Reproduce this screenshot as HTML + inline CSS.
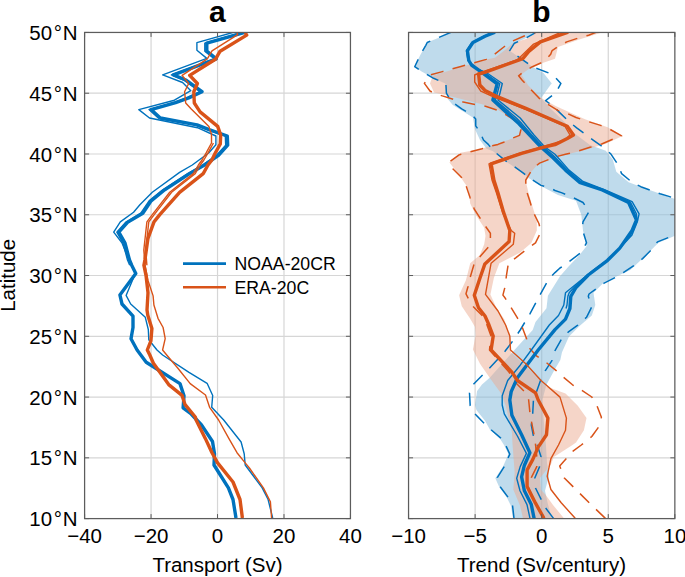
<!DOCTYPE html>
<html><head><meta charset="utf-8"><style>
html,body{margin:0;padding:0;background:#fff;}
body{width:685px;height:577px;overflow:hidden;position:relative;font-family:"Liberation Sans",sans-serif;}
svg text{font-family:"Liberation Sans",sans-serif;fill:#000;}
</style></head><body>
<svg width="685" height="577" viewBox="0 0 685 577" style="position:absolute;left:0;top:0"><rect width="685" height="577" fill="#fff"/><line x1="151.06" y1="32.45" x2="151.06" y2="518.6" stroke="#d6d6d6" stroke-width="1.2"/><line x1="217.53" y1="32.45" x2="217.53" y2="518.6" stroke="#d6d6d6" stroke-width="1.2"/><line x1="283.99" y1="32.45" x2="283.99" y2="518.6" stroke="#d6d6d6" stroke-width="1.2"/><line x1="84.6" y1="457.83" x2="350.45" y2="457.83" stroke="#d6d6d6" stroke-width="1.2"/><line x1="84.6" y1="397.06" x2="350.45" y2="397.06" stroke="#d6d6d6" stroke-width="1.2"/><line x1="84.6" y1="336.29" x2="350.45" y2="336.29" stroke="#d6d6d6" stroke-width="1.2"/><line x1="84.6" y1="275.52" x2="350.45" y2="275.52" stroke="#d6d6d6" stroke-width="1.2"/><line x1="84.6" y1="214.76" x2="350.45" y2="214.76" stroke="#d6d6d6" stroke-width="1.2"/><line x1="84.6" y1="153.99" x2="350.45" y2="153.99" stroke="#d6d6d6" stroke-width="1.2"/><line x1="84.6" y1="93.22" x2="350.45" y2="93.22" stroke="#d6d6d6" stroke-width="1.2"/><line x1="475.12" y1="32.45" x2="475.12" y2="518.6" stroke="#d6d6d6" stroke-width="1.2"/><line x1="541.70" y1="32.45" x2="541.70" y2="518.6" stroke="#d6d6d6" stroke-width="1.2"/><line x1="608.27" y1="32.45" x2="608.27" y2="518.6" stroke="#d6d6d6" stroke-width="1.2"/><line x1="408.55" y1="457.83" x2="674.85" y2="457.83" stroke="#d6d6d6" stroke-width="1.2"/><line x1="408.55" y1="397.06" x2="674.85" y2="397.06" stroke="#d6d6d6" stroke-width="1.2"/><line x1="408.55" y1="336.29" x2="674.85" y2="336.29" stroke="#d6d6d6" stroke-width="1.2"/><line x1="408.55" y1="275.52" x2="674.85" y2="275.52" stroke="#d6d6d6" stroke-width="1.2"/><line x1="408.55" y1="214.76" x2="674.85" y2="214.76" stroke="#d6d6d6" stroke-width="1.2"/><line x1="408.55" y1="153.99" x2="674.85" y2="153.99" stroke="#d6d6d6" stroke-width="1.2"/><line x1="408.55" y1="93.22" x2="674.85" y2="93.22" stroke="#d6d6d6" stroke-width="1.2"/><defs><clipPath id="cb"><rect x="408.55" y="32.45" width="266.30" height="486.15"/></clipPath><clipPath id="ca"><rect x="84.6" y="32.45" width="265.85" height="486.15"/></clipPath></defs><g clip-path="url(#cb)"><polygon points="451.4,32.4 427.2,42.5 425.8,45.3 420.3,55.0 414.5,66.5 421.6,71.6 434.1,78.5 445.2,83.4 446.6,93.1 448.0,99.3 452.8,105.0 472.9,117.5 475.0,129.3 480.0,140.0 486.5,148.7 493.0,151.3 504.0,160.3 510.5,164.5 522.0,172.8 529.0,178.3 541.0,186.1 558.0,195.1 576.0,200.8 581.3,214.8 583.0,230.5 586.5,246.3 579.5,255.1 569.0,266.0 560.0,276.3 547.9,295.8 546.5,308.2 535.5,322.1 532.7,330.0 513.3,351.3 489.7,377.7 482.0,384.6 477.1,391.0 475.0,404.9 476.4,410.0 485.0,420.8 490.0,429.8 499.5,438.1 504.0,445.1 508.5,454.1 503.0,466.6 495.3,478.3 499.0,486.6 507.0,497.7 511.0,506.0 513.0,518.4 552.0,518.4 548.0,504.6 545.0,490.8 549.0,476.0 547.0,463.0 546.0,445.8 543.8,420.8 542.4,400.0 546.5,384.6 555.0,369.0 560.3,360.0 562.0,352.3 569.0,336.6 579.5,326.1 591.8,315.5 595.3,305.0 593.5,292.8 604.1,282.3 630.3,270.0 642.6,258.6 658.4,242.8 675.0,235.8 675.0,199.0 649.6,190.0 628.6,182.3 616.3,171.8 612.8,159.6 605.8,150.8 590.0,145.0 574.0,133.0 564.0,121.5 551.0,109.0 541.2,98.1 550.4,85.0 551.8,83.4 543.5,73.0 532.4,66.7 513.0,52.9 509.6,50.8 514.4,43.2 524.1,39.0 535.5,32.4" fill="rgb(128,183,217)" fill-opacity="0.5" stroke="none"/><polygon points="537.0,32.4 526.0,39.0 513.0,43.0 505.0,50.0 495.0,57.7 485.0,59.8 464.6,66.0 432.7,75.8 430.0,83.4 434.1,92.4 446.6,95.2 485.0,104.9 498.0,109.7 517.4,122.9 521.6,130.5 520.2,134.7 511.9,138.8 486.9,147.1 480.0,149.2 460.5,152.8 449.4,162.5 457.7,172.9 466.0,185.0 468.8,191.1 470.2,203.6 475.7,214.7 484.2,227.7 485.5,236.0 484.2,244.3 479.9,255.0 470.2,263.3 466.0,280.0 459.1,295.2 461.8,306.3 470.2,318.8 475.0,327.1 475.7,335.0 472.9,349.4 480.0,363.8 489.7,377.7 500.8,393.0 505.5,405.0 511.9,431.9 512.6,445.0 514.7,472.7 513.3,489.4 520.2,506.0 523.0,518.4 564.1,518.4 553.0,505.0 545.0,494.0 541.0,490.0 540.0,478.0 550.9,464.5 553.8,457.1 572.5,445.0 576.0,442.6 583.9,430.3 586.5,418.1 577.8,405.8 565.5,393.5 560.0,391.6 545.2,386.0 526.0,366.6 511.2,352.7 510.5,337.5 507.7,330.0 504.3,319.3 496.6,308.2 490.4,294.4 493.9,277.7 499.4,263.2 520.2,252.6 531.3,242.9 536.8,230.5 536.8,220.8 532.7,206.9 528.5,193.0 525.8,181.2 528.5,175.0 538.2,163.8 560.3,156.1 584.8,149.9 605.8,143.8 622.4,135.9 607.6,127.2 585.0,119.2 555.6,106.0 541.2,98.1 528.3,85.5 521.3,74.4 531.7,66.7 555.0,58.7 558.0,47.0 578.4,39.7 601.8,32.4" fill="rgb(235,172,146)" fill-opacity="0.5" stroke="none"/></g><g clip-path="url(#ca)" fill="none" stroke-linejoin="round" stroke-linecap="butt"><polyline points="235.3,31.8 196.9,42.7 196.9,50.3 206.8,58.4 162.7,74.9 182.6,82.5 190.8,90.7 174.4,100.2 138.8,109.6 149.5,118.0 197.5,127.7 215.9,136.0 215.9,144.8 208.9,152.7 192.3,165.0 179.6,172.4 152.3,192.3 139.9,204.7 133.6,212.2 120.3,221.9 113.7,232.1 121.9,242.8 129.0,260.0 131.2,265.0 135.3,273.4 126.1,295.4 130.7,304.0 145.3,317.3 148.3,329.5 148.8,339.7 157.0,350.0 162.6,355.0 189.0,372.4 207.1,383.3 212.7,395.5 211.7,407.3 223.7,420.0 241.1,442.0 244.2,453.7 245.2,465.0 262.2,487.9 268.1,499.5 272.7,518.0" stroke="#0072BD" stroke-width="1.4"/><polyline points="242.8,32.3 204.8,43.2 204.8,51.2 214.3,58.8 171.4,74.9 183.7,80.0 200.0,91.7 186.7,97.9 173.6,102.7 149.0,109.6 158.3,118.0 195.0,124.9 207.8,129.9 225.3,136.0 225.7,145.2 216.5,155.3 202.5,165.0 187.6,173.6 162.7,189.8 149.1,200.9 140.8,213.2 125.5,222.4 116.8,232.1 122.9,242.8 127.5,260.0 129.7,265.2" stroke="#0072BD" stroke-width="1.4"/><polyline points="244.8,32.3 206.8,43.2 206.8,51.2 216.3,58.8 173.4,74.9 185.7,80.0 202.0,91.7 188.7,97.9 175.6,102.7 151.0,109.6 160.3,118.0 197.0,124.9 209.8,129.9 227.3,136.0 227.7,145.2 218.5,155.3 204.5,165.0 189.6,173.6 164.7,189.8 151.1,200.9 142.8,213.2 127.5,222.4 118.8,232.1 124.9,242.8 129.5,260.0 131.7,265.2 135.8,273.4 119.9,294.9 122.0,304.0 133.0,316.2 133.0,327.5 131.0,338.7 137.1,350.0 146.2,362.2 180.0,383.6 184.0,395.9 183.1,407.8 191.2,414.0 201.5,425.0 212.5,441.5 214.5,453.7 214.0,465.0 228.4,487.9 233.0,499.5 236.0,518.0" stroke="#0072BD" stroke-width="3.4"/><polyline points="236.7,32.3 237.7,34.6 212.0,50.8 207.3,58.8 182.1,75.4 188.7,83.5 184.6,91.7 185.7,103.0 191.0,108.8 208.9,126.4 211.5,134.3 211.5,143.0 206.3,152.7 202.0,160.0 198.4,165.0 193.3,173.6 169.7,192.3 152.3,214.6 146.9,221.9 143.8,250.0 145.0,265.2 148.0,280.5 153.1,295.9 153.9,305.0 158.0,318.3 163.1,327.5 165.2,338.7 162.6,350.0 166.7,355.0 177.9,368.3 190.2,383.6 205.5,395.0 209.6,407.3 218.6,420.0 228.8,438.4 237.0,452.7 245.2,462.9 249.4,468.0 263.4,487.9 270.4,501.9 271.6,518.0" stroke="#D95319" stroke-width="1.4"/><polyline points="213.4,143.0 208.2,152.7 203.9,160.0 200.3,165.0 195.2,173.6 171.6,192.3 154.2,214.6 148.8,221.9 145.7,250.0 146.9,265.2" stroke="#D95319" stroke-width="1.4"/><polyline points="245.2,32.7 246.7,35.1 220.1,51.2 215.4,59.3 189.7,75.4 197.4,83.5 193.8,91.7 194.3,103.0 200.1,111.9 217.7,126.4 220.7,135.1 220.3,143.9 215.0,153.5 211.9,160.0 208.0,165.0 203.2,173.6 179.6,192.3 159.8,214.6 154.0,221.9 147.9,238.7 144.9,260.0 143.9,265.2 146.0,275.4 148.0,292.8 147.0,310.0 147.8,315.2 151.9,328.5 150.9,340.8 147.3,350.0 149.8,355.0 153.4,363.2 168.7,384.6 182.0,395.4 185.1,404.7 195.3,417.0 196.1,420.0 205.3,438.4 212.0,452.7 217.6,462.9 233.0,482.0 240.0,499.5 242.4,518.0" stroke="#D95319" stroke-width="3.4"/></g><g clip-path="url(#cb)" fill="none" stroke-linejoin="round" stroke-linecap="butt"><polyline points="514.0,518.4 512.6,506.0 508.4,497.7 500.1,486.6 497.3,477.6 504.3,466.6 509.8,454.1 505.6,445.1 500.8,438.1 491.1,429.8 485.0,424.3 475.0,413.9 470.2,405.6 469.5,393.1 472.9,384.8 482.6,374.9 489.0,368.7 498.0,359.0 505.0,351.3 513.3,340.3 520.2,330.0 529.9,313.8 540.3,294.4 547.2,281.9 552.1,275.6 555.0,272.6 560.0,268.0 563.8,265.6 570.8,260.3 581.3,252.4 586.5,242.8 582.2,228.8 583.0,221.8 589.2,211.3 583.0,202.5 570.8,196.4 562.0,192.9 555.0,190.5 550.7,188.2 541.0,185.4 529.9,178.3 523.0,172.8 511.2,164.5 505.0,160.3 493.9,151.3 488.3,144.4 483.5,140.0 479.9,132.0 475.7,125.8 475.7,118.9 471.6,114.7 461.7,108.9 451.0,101.3 446.4,93.1 445.9,83.9 441.8,81.9 433.6,78.3 421.3,71.1 414.7,66.7 420.3,55.0 425.8,45.3 427.2,42.5 451.4,32.1" stroke="#0072BD" stroke-width="1.5" stroke-dasharray="13,9.5"/><polyline points="553.5,518.4 545.2,507.4 541.0,499.1 535.5,488.0 534.8,478.0 539.6,466.6 541.0,456.8 537.5,445.8 533.4,436.0 531.3,425.0 532.7,413.9 533.4,400.6 536.8,390.9 541.0,379.1 545.2,370.8 552.1,360.4 555.0,350.6 562.0,338.3 568.1,332.2 577.8,325.2 586.5,317.3 591.8,306.8 588.3,296.3 589.0,294.0 604.1,283.1 616.3,277.0 623.3,272.6 633.8,265.6 642.6,258.6 651.4,249.8 657.5,241.9 670.6,236.7 680.0,235.0 677.0,199.0 668.9,196.4 660.1,193.8 640.8,186.7 632.1,182.3 621.6,173.6 618.1,164.8 611.1,154.3 605.8,149.1 593.5,140.3 585.0,134.0 576.7,127.9 569.7,122.2 559.2,112.1 553.0,106.0 545.6,100.7 556.0,92.4 560.9,83.4 552.5,74.4 532.4,66.7 513.0,52.9 509.6,50.8 514.4,43.2 524.1,39.0 535.2,32.8" stroke="#0072BD" stroke-width="1.5" stroke-dasharray="13,9.5"/><polyline points="544.0,518.4 535.5,503.2 528.0,486.6 531.3,477.6 536.8,466.6 536.8,456.8 535.5,444.4 534.1,434.7 531.3,420.8 529.9,412.5 528.5,398.5 524.4,391.6 514.7,381.8 509.0,372.0 489.5,350.0 491.0,336.0 487.0,325.0 482.6,316.0 473.6,307.0 468.8,299.4 466.0,293.8 468.1,286.2 470.2,277.2 474.3,263.3 481.4,255.0 488.3,247.1 490.4,238.8 490.4,233.2 485.5,226.3 480.6,218.8 474.3,209.1 470.2,198.0 466.0,185.5 461.8,177.8 452.8,168.8 448.7,162.5 459.1,154.9 468.8,152.1 482.0,148.7 489.7,146.4 498.0,144.4 503.6,142.3 512.6,138.1 519.5,135.4 520.9,129.8 517.4,122.2 507.0,115.3 498.0,110.4 485.5,106.2 477.1,104.9 463.2,102.1 453.5,99.3 442.4,95.9 434.1,93.1 430.0,91.0 424.4,83.4 430.0,75.1 442.4,71.6 452.1,68.8 460.0,66.7 473.1,63.0 486.3,59.4 493.6,55.0 503.8,47.0 512.6,41.1 524.2,36.0 536.0,32.4" stroke="#D95319" stroke-width="1.5" stroke-dasharray="13,9.5"/><polyline points="605.4,518.4 589.2,502.8 564.1,477.7 559.7,465.9 573.0,451.2 581.3,445.0 591.8,436.5 598.8,426.8 601.4,417.2 597.0,405.8 591.8,397.0 581.3,390.0 572.5,384.8 562.0,376.0 555.6,370.1 545.2,361.7 536.8,356.2 528.5,347.2 526.4,338.2 521.6,325.6 517.4,317.9 509.8,305.5 505.0,297.8 502.9,295.1 505.6,284.7 506.3,276.3 508.4,263.2 516.0,257.6 525.8,249.9 535.5,242.9 541.0,231.8 538.9,223.5 532.7,211.0 529.9,201.3 525.8,188.9 525.8,180.0 532.7,168.6 539.6,163.1 552.1,158.2 555.0,157.0 565.5,154.3 576.0,151.7 590.0,147.3 602.3,143.8 616.3,137.7 621.6,135.9 609.3,128.9 600.6,125.4 586.5,121.0 576.0,117.5 566.2,113.0 557.8,110.4 545.6,103.0 539.0,98.1 529.0,87.5 522.0,80.0 518.6,75.8 524.0,71.6 532.4,66.7 544.1,61.6 550.7,54.3 552.1,50.6 558.7,46.2 566.7,41.9 579.9,37.5 588.6,35.3 596.6,32.1" stroke="#D95319" stroke-width="1.5" stroke-dasharray="13,9.5"/><polyline points="494.0,32.1 484.0,36.2 472.0,42.5 466.5,50.8 468.0,60.5 477.0,68.8 487.0,73.0 502.3,83.5 500.0,93.0 498.0,100.0 520.2,118.0 534.0,135.0 545.0,147.1 555.0,154.3 569.0,170.1 583.0,181.5 605.0,190.0 632.1,201.6 639.1,213.9 637.3,221.8 632.0,235.0 620.0,248.1 607.0,260.3 593.5,270.0 565.5,292.8 563.8,305.0 558.5,315.5 549.3,325.0 531.3,350.0 520.2,365.2 507.7,380.5 502.2,395.7 502.2,405.0 504.3,413.9 517.4,436.0 526.4,453.4 520.2,466.6 516.7,478.3 520.0,490.8 527.0,504.6 530.0,518.4" stroke="#0072BD" stroke-width="1.4"/><polyline points="494.5,32.1 484.5,36.2 472.4,42.5 466.9,50.8 468.4,60.5 472.2,65.0 476.9,68.8 482.4,71.7 484.8,73.0 499.5,83.5 499.7,83.8 497.4,93.0 495.4,100.0 516.4,118.0 521.8,123.6 531.8,135.0 543.0,147.1 552.0,154.3 555.6,157.8 567.2,170.1 580.8,181.5 582.3,182.3 603.6,190.0 629.4,201.6 630.6,202.5 636.4,213.9 637.1,220.0 636.5,221.8 633.0,230.5 630.5,235.0 619.9,248.1 607.3,260.3 594.2,270.0 587.8,275.0 574.0,287.5 569.2,292.8 567.9,296.3 567.0,305.0 566.0,308.5" stroke="#0072BD" stroke-width="1.4"/><polyline points="495.0,32.1 485.0,36.2 472.9,42.5 467.4,50.8 468.8,60.5 471.5,65.0 480.8,71.7 497.2,83.8 492.9,100.0 518.8,123.6 541.0,147.1 553.0,157.8 565.5,170.1 579.5,182.3 602.3,190.0 628.6,202.5 636.5,220.0 632.1,230.5 619.8,248.1 607.6,260.3 588.3,275.0 576.0,287.5 570.8,296.3 569.9,308.5 565.5,319.1 555.0,329.6 538.2,350.0 525.8,366.6 517.4,377.7 511.2,391.6 509.8,400.0 511.9,415.3 521.6,434.7 529.9,452.7 524.4,465.2 521.6,476.9 524.4,490.8 531.3,504.6 534.1,518.4" stroke="#0072BD" stroke-width="3.4"/><polyline points="561.3,32.1 533.6,44.1 521.6,55.7 517.0,60.0 478.0,73.5 474.7,75.0 474.7,82.0 480.8,91.1 494.0,97.2 523.0,108.3 553.0,121.0 565.0,126.3 570.0,135.0 565.0,140.0 541.0,147.1 519.0,153.4 489.0,163.8 492.0,180.0 496.5,193.0 502.5,212.4 511.2,230.5 514.7,233.2 513.3,244.3 500.8,255.0 491.1,263.2 485.5,294.4 498.0,311.0 505.6,325.0 509.8,336.1 510.5,350.0 525.8,363.8 541.0,380.5 560.0,397.1 566.4,418.1 565.5,430.3 558.5,445.0 550.9,458.6 547.2,476.2 550.9,489.5 561.2,502.8 575.2,518.2" stroke="#D95319" stroke-width="1.4"/><polyline points="568.2,32.1 540.4,41.9 528.8,51.4 522.8,58.7 484.8,72.3 478.6,74.0 479.0,77.5 479.8,85.0 485.0,90.5 498.4,97.2 525.8,108.3 555.0,121.0 567.3,126.3 573.4,135.0 567.3,138.5 555.0,144.7 543.8,147.1 521.6,153.4 491.1,163.8 493.9,180.0 498.0,193.0 503.6,212.4 509.8,230.5 509.1,241.6 500.0,250.0 484.9,263.9 480.0,278.0 474.3,295.2 478.5,307.7 485.0,316.0 489.0,325.0 493.2,336.1 491.1,350.0 511.9,372.1 517.4,380.5 535.5,392.9 538.2,400.0 547.9,418.0 546.5,434.7 538.2,447.1 532.7,459.6 527.1,470.0 527.1,486.6 535.5,503.2 544.0,518.4" stroke="#D95319" stroke-width="3.4"/></g><rect x="84.6" y="32.45" width="265.85" height="486.15" fill="none" stroke="#5c5c5c" stroke-width="1.25"/><line x1="84.60" y1="32.45" x2="84.60" y2="36.95" stroke="#5c5c5c" stroke-width="1"/><line x1="84.60" y1="518.6" x2="84.60" y2="514.1" stroke="#5c5c5c" stroke-width="1"/><line x1="151.06" y1="32.45" x2="151.06" y2="36.95" stroke="#5c5c5c" stroke-width="1"/><line x1="151.06" y1="518.6" x2="151.06" y2="514.1" stroke="#5c5c5c" stroke-width="1"/><line x1="217.53" y1="32.45" x2="217.53" y2="36.95" stroke="#5c5c5c" stroke-width="1"/><line x1="217.53" y1="518.6" x2="217.53" y2="514.1" stroke="#5c5c5c" stroke-width="1"/><line x1="283.99" y1="32.45" x2="283.99" y2="36.95" stroke="#5c5c5c" stroke-width="1"/><line x1="283.99" y1="518.6" x2="283.99" y2="514.1" stroke="#5c5c5c" stroke-width="1"/><line x1="350.45" y1="32.45" x2="350.45" y2="36.95" stroke="#5c5c5c" stroke-width="1"/><line x1="350.45" y1="518.6" x2="350.45" y2="514.1" stroke="#5c5c5c" stroke-width="1"/><line x1="84.6" y1="518.60" x2="89.1" y2="518.60" stroke="#5c5c5c" stroke-width="1"/><line x1="350.45" y1="518.60" x2="345.95" y2="518.60" stroke="#5c5c5c" stroke-width="1"/><line x1="84.6" y1="457.83" x2="89.1" y2="457.83" stroke="#5c5c5c" stroke-width="1"/><line x1="350.45" y1="457.83" x2="345.95" y2="457.83" stroke="#5c5c5c" stroke-width="1"/><line x1="84.6" y1="397.06" x2="89.1" y2="397.06" stroke="#5c5c5c" stroke-width="1"/><line x1="350.45" y1="397.06" x2="345.95" y2="397.06" stroke="#5c5c5c" stroke-width="1"/><line x1="84.6" y1="336.29" x2="89.1" y2="336.29" stroke="#5c5c5c" stroke-width="1"/><line x1="350.45" y1="336.29" x2="345.95" y2="336.29" stroke="#5c5c5c" stroke-width="1"/><line x1="84.6" y1="275.52" x2="89.1" y2="275.52" stroke="#5c5c5c" stroke-width="1"/><line x1="350.45" y1="275.52" x2="345.95" y2="275.52" stroke="#5c5c5c" stroke-width="1"/><line x1="84.6" y1="214.76" x2="89.1" y2="214.76" stroke="#5c5c5c" stroke-width="1"/><line x1="350.45" y1="214.76" x2="345.95" y2="214.76" stroke="#5c5c5c" stroke-width="1"/><line x1="84.6" y1="153.99" x2="89.1" y2="153.99" stroke="#5c5c5c" stroke-width="1"/><line x1="350.45" y1="153.99" x2="345.95" y2="153.99" stroke="#5c5c5c" stroke-width="1"/><line x1="84.6" y1="93.22" x2="89.1" y2="93.22" stroke="#5c5c5c" stroke-width="1"/><line x1="350.45" y1="93.22" x2="345.95" y2="93.22" stroke="#5c5c5c" stroke-width="1"/><line x1="84.6" y1="32.45" x2="89.1" y2="32.45" stroke="#5c5c5c" stroke-width="1"/><line x1="350.45" y1="32.45" x2="345.95" y2="32.45" stroke="#5c5c5c" stroke-width="1"/><rect x="408.55" y="32.45" width="266.30" height="486.15" fill="none" stroke="#5c5c5c" stroke-width="1.25"/><line x1="408.55" y1="32.45" x2="408.55" y2="36.95" stroke="#5c5c5c" stroke-width="1"/><line x1="408.55" y1="518.6" x2="408.55" y2="514.1" stroke="#5c5c5c" stroke-width="1"/><line x1="475.12" y1="32.45" x2="475.12" y2="36.95" stroke="#5c5c5c" stroke-width="1"/><line x1="475.12" y1="518.6" x2="475.12" y2="514.1" stroke="#5c5c5c" stroke-width="1"/><line x1="541.70" y1="32.45" x2="541.70" y2="36.95" stroke="#5c5c5c" stroke-width="1"/><line x1="541.70" y1="518.6" x2="541.70" y2="514.1" stroke="#5c5c5c" stroke-width="1"/><line x1="608.27" y1="32.45" x2="608.27" y2="36.95" stroke="#5c5c5c" stroke-width="1"/><line x1="608.27" y1="518.6" x2="608.27" y2="514.1" stroke="#5c5c5c" stroke-width="1"/><line x1="674.85" y1="32.45" x2="674.85" y2="36.95" stroke="#5c5c5c" stroke-width="1"/><line x1="674.85" y1="518.6" x2="674.85" y2="514.1" stroke="#5c5c5c" stroke-width="1"/><line x1="408.55" y1="518.60" x2="413.05" y2="518.60" stroke="#5c5c5c" stroke-width="1"/><line x1="674.85" y1="518.60" x2="670.35" y2="518.60" stroke="#5c5c5c" stroke-width="1"/><line x1="408.55" y1="457.83" x2="413.05" y2="457.83" stroke="#5c5c5c" stroke-width="1"/><line x1="674.85" y1="457.83" x2="670.35" y2="457.83" stroke="#5c5c5c" stroke-width="1"/><line x1="408.55" y1="397.06" x2="413.05" y2="397.06" stroke="#5c5c5c" stroke-width="1"/><line x1="674.85" y1="397.06" x2="670.35" y2="397.06" stroke="#5c5c5c" stroke-width="1"/><line x1="408.55" y1="336.29" x2="413.05" y2="336.29" stroke="#5c5c5c" stroke-width="1"/><line x1="674.85" y1="336.29" x2="670.35" y2="336.29" stroke="#5c5c5c" stroke-width="1"/><line x1="408.55" y1="275.52" x2="413.05" y2="275.52" stroke="#5c5c5c" stroke-width="1"/><line x1="674.85" y1="275.52" x2="670.35" y2="275.52" stroke="#5c5c5c" stroke-width="1"/><line x1="408.55" y1="214.76" x2="413.05" y2="214.76" stroke="#5c5c5c" stroke-width="1"/><line x1="674.85" y1="214.76" x2="670.35" y2="214.76" stroke="#5c5c5c" stroke-width="1"/><line x1="408.55" y1="153.99" x2="413.05" y2="153.99" stroke="#5c5c5c" stroke-width="1"/><line x1="674.85" y1="153.99" x2="670.35" y2="153.99" stroke="#5c5c5c" stroke-width="1"/><line x1="408.55" y1="93.22" x2="413.05" y2="93.22" stroke="#5c5c5c" stroke-width="1"/><line x1="674.85" y1="93.22" x2="670.35" y2="93.22" stroke="#5c5c5c" stroke-width="1"/><line x1="408.55" y1="32.45" x2="413.05" y2="32.45" stroke="#5c5c5c" stroke-width="1"/><line x1="674.85" y1="32.45" x2="670.35" y2="32.45" stroke="#5c5c5c" stroke-width="1"/><line x1="183" y1="263.6" x2="226" y2="263.6" stroke="#0072BD" stroke-width="2.6"/><line x1="183" y1="287.2" x2="226" y2="287.2" stroke="#D95319" stroke-width="2.6"/>
<text x="77.5" y="526.1" text-anchor="end" font-size="20.5" font-weight="normal" >10<tspan dx="1.5">°</tspan><tspan dx="0.8">N</tspan></text><text x="77.5" y="465.3" text-anchor="end" font-size="20.5" font-weight="normal" >15<tspan dx="1.5">°</tspan><tspan dx="0.8">N</tspan></text><text x="77.5" y="404.6" text-anchor="end" font-size="20.5" font-weight="normal" >20<tspan dx="1.5">°</tspan><tspan dx="0.8">N</tspan></text><text x="77.5" y="343.8" text-anchor="end" font-size="20.5" font-weight="normal" >25<tspan dx="1.5">°</tspan><tspan dx="0.8">N</tspan></text><text x="77.5" y="283.0" text-anchor="end" font-size="20.5" font-weight="normal" >30<tspan dx="1.5">°</tspan><tspan dx="0.8">N</tspan></text><text x="77.5" y="222.3" text-anchor="end" font-size="20.5" font-weight="normal" >35<tspan dx="1.5">°</tspan><tspan dx="0.8">N</tspan></text><text x="77.5" y="161.5" text-anchor="end" font-size="20.5" font-weight="normal" >40<tspan dx="1.5">°</tspan><tspan dx="0.8">N</tspan></text><text x="77.5" y="100.7" text-anchor="end" font-size="20.5" font-weight="normal" >45<tspan dx="1.5">°</tspan><tspan dx="0.8">N</tspan></text><text x="77.5" y="40.0" text-anchor="end" font-size="20.5" font-weight="normal" >50<tspan dx="1.5">°</tspan><tspan dx="0.8">N</tspan></text><text x="84.6" y="542.5" text-anchor="middle" font-size="20.5" font-weight="normal" >−40</text><text x="151.1" y="542.5" text-anchor="middle" font-size="20.5" font-weight="normal" >−20</text><text x="217.5" y="542.5" text-anchor="middle" font-size="20.5" font-weight="normal" >0</text><text x="284.0" y="542.5" text-anchor="middle" font-size="20.5" font-weight="normal" >20</text><text x="350.5" y="542.5" text-anchor="middle" font-size="20.5" font-weight="normal" >40</text><text x="408.6" y="542.5" text-anchor="middle" font-size="20.5" font-weight="normal" >−10</text><text x="475.1" y="542.5" text-anchor="middle" font-size="20.5" font-weight="normal" >−5</text><text x="541.7" y="542.5" text-anchor="middle" font-size="20.5" font-weight="normal" >0</text><text x="608.3" y="542.5" text-anchor="middle" font-size="20.5" font-weight="normal" >5</text><text x="674.9" y="542.5" text-anchor="middle" font-size="20.5" font-weight="normal" >10</text><text x="217.5" y="571.5" text-anchor="middle" font-size="20.5" font-weight="normal" >Transport (Sv)</text><text x="541.5" y="571.5" text-anchor="middle" font-size="20.5" font-weight="normal" >Trend (Sv/century)</text><text x="217.4" y="22" text-anchor="middle" font-size="30" font-weight="bold" >a</text><text x="541.5" y="22" text-anchor="middle" font-size="30" font-weight="bold" >b</text><text x="234.5" y="270" text-anchor="start" font-size="17.7" font-weight="normal" >NOAA-20CR</text><text x="234.5" y="293.5" text-anchor="start" font-size="17.7" font-weight="normal" >ERA-20C</text><text x="0" y="0" text-anchor="middle" font-size="20.5" transform="translate(14.5,275.4) rotate(-90)">Latitude</text>
</svg>
</body></html>
